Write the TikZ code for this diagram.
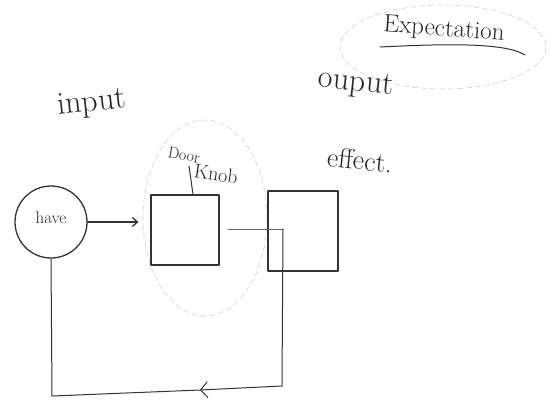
\documentclass[tikz,border=0pt]{standalone}
\usepackage{fontspec}
\usetikzlibrary{arrows.meta}
\begin{document}
\begin{tikzpicture}[x=1pt,y=-1pt,
  ink/.style={draw=black!80,line width=1.3pt,line cap=round,line join=round},
  faint/.style={draw=black!18,line width=0.6pt,dash pattern=on 6pt off 3pt},
  hand/.style={text=black!85,inner sep=0pt},
  boxnode/.style={ink,rectangle,inner sep=0pt}]
\useasboundingbox (0,0) rectangle (551,400);
% faint ellipses
\draw[faint] (205,218) ellipse [x radius=62,y radius=98];
\draw[faint] (443,47) ellipse [x radius=103,y radius=42];
% nodes
\node[ink,circle,minimum size=72pt,inner sep=0pt] (have) at (51,222) {};
\node[hand,font=\fontsize{17}{17}\selectfont] (havetxt) at (51,218) {have};
\node[boxnode,minimum width=68pt,minimum height=70pt] (door) at (185,230) {};
\node[boxnode,minimum width=70pt,minimum height=80pt] (effect) at (303,231) {};
% texts
\node[hand,font=\fontsize{32}{32}\selectfont,rotate=6] (input) at (92,104) {input};
\node[hand,font=\fontsize{16}{16}\selectfont,rotate=-10] (doortxt) at (184,155) {Door};
\node[hand,font=\fontsize{20}{20}\selectfont,rotate=-8] (knob) at (216,174) {Knob};
\node[hand,font=\fontsize{32}{32}\selectfont,rotate=-6] (ouput) at (356,84) {ouput};
\node[hand,font=\fontsize{28}{28}\selectfont,rotate=-6] (effecttxt) at (360,160) {effect.};
\node[hand,font=\fontsize{25}{25}\selectfont,rotate=-4] (expect) at (444,30) {Expectation};
\draw[ink,line width=1pt] (380,47) .. controls (440,44) and (505,42) .. (525,55);
% knob pointer
\draw[ink,line width=1pt] (door.north -| 193,0) -- (189,166);
% connectors
\draw[ink,-{Straight Barb[length=5pt,width=9pt]}] (have.east) -- ([xshift=-12pt]door.west |- have.east);
\coordinate (j0) at (228,229);
\coordinate (j1) at (283,229);
\coordinate (j2) at (282,386);
\coordinate (amid) at (200,390);
\coordinate (j3) at (52,396);
\draw[ink,line width=0.8pt,draw=black!60] (j0) -- (j1);
\draw[ink,line width=1pt] (j1) -- (j2);
\draw[ink,line width=1pt,-{Straight Barb[length=7pt,width=16pt]}] (j2) -- (amid);
\draw[ink,line width=1pt] (amid) -- (j3) -- (have.south);
\end{tikzpicture}
\end{document}
